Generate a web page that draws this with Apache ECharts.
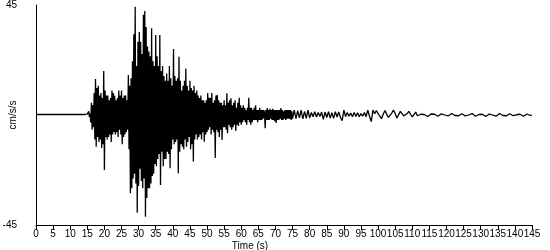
<!DOCTYPE html>
<html>
<head>
<meta charset="utf-8">
<script src="https://cdn.jsdelivr.net/npm/echarts@6/dist/echarts.min.js"></script>
<style>
html,body{margin:0;padding:0;background:#fff;}
#chart{width:550px;height:250px;}
</style>
</head>
<body>
<div id="chart"></div>
<script>
// Time axis ticks (s)
var xTicks = [0,5,10,15,20,25,30,35,40,45,50,55,60,65,70,75,80,85,90,95,100,105,110,115,120,125,130,135,140,145];
// Y axis labels (cm/s/s)
var yTicks = [-45, 45];

// Pre-event record: t = 0 .. 14.5 s, every 0.5 s
var preStart = 0, preStep = 0.5;
var preValues = [0.2,-0.2,0.2,-0.2,0.2,-0.2,0.2,-0.2,0.2,-0.2,
                 0.2,-0.2,0.2,-0.2,0.2,-0.2,0.2,-0.2,0.2,-0.2,
                 0.2,-0.2,0.2,-0.2,0.2,-0.2,0.2,-0.2,0.2,-0.2];

// Strong motion: t = 15.0 .. 75.0 s, every 0.2 s
var mainStart = 15, mainStep = 0.2;
var mainValues = [
  0.4,-0.3,1.5,-0.8,0.6,        // 15
  -3,5,-6,4,-5,                 // 16
  9,-10,14.7,-13,11,            // 17
  -9,12,-11,8,-10,              // 18
  9,-13.5,7,-12,18,             // 19
  -22.5,10,-9,8,-10,            // 20
  8,-9,6,-8,7,                  // 21
  -11,10,-8,9,-7,               // 22
  8,-8,6,-7,7,                  // 23
  -9,10,-6,8,-8,                // 24
  10,-12,7,-9,8,                // 25
  -8,8,-7,6,-6,                 // 26
  16.4,-14,12,-32,15,           // 27
  -30,22,-26,33,-24,            // 28
  44.3,-28,20,-40,30,           // 29
  -29,34,-22,30,-27,            // 30
  25,-30,41,-26,42.5,           // 31
  -41.6,36,-34,28,-30,          // 32
  26,-30,24,-28,35.5,           // 33
  -25,22,-24,20,-20,            // 34
  32.7,-21,24,-18,20,           // 35
  -16,32.7,-28.6,18,-15,        // 36
  20,-21,16,-18,14,             // 37
  -18,17,-15,14,-16,            // 38
  20,-21.8,15,-14,12,           // 39
  -10,27,-12,16,-11,            // 40
  14,-10,15,-23.8,23.8,         // 41
  -15,14,-12,10,-13,            // 42
  12,-14,14,-10,19,             // 43
  -13,12,-11,10,-9,             // 44
  14,-14,11,-12,10,             // 45
  -19,12,-10,9,-8,              // 46
  10,-10,8,-9,7,                // 47
  -8,8,-10,6,-7,                // 48
  6,-10.9,5,-8,6,               // 49
  -7,9,-6,7,-5,                 // 50
  7,-8,9,-6,5,                  // 51
  -7,6,-17.6,8,-6,              // 52
  8.2,-7,6,-9,5,                // 53
  -6,5,-10.2,4,-5,              // 54
  6,-5,4,-6,8.9,                // 55
  -7.5,5,-4,6,-5,               // 56
  6.8,-6,4,-5,5,                // 57
  -4,6,-6.5,3,-4,               // 58
  5,-4.5,7,-3,4,                // 59
  -4,3,-3,4,-2,                 // 60
  3,-3,2,-4,3,                  // 61
  -2,7,-3,3,-4,                 // 62
  3,-3,2,-2,3,                  // 63
  -2,4,-2,2,-3,                 // 64
  2,-2,3,-2,2,                  // 65
  -2,2,-1.5,2,1,                // 66
  -5.4,2,-2,2.8,-2,             // 67
  2,-2,2.5,-1.5,2,              // 68
  -2,2.5,-2,2,-2.5,             // 69
  2,-3.3,2,-2,2,                // 70
  -2,2,-1.5,2.8,-2,             // 71
  2,-2,1.5,-1.5,2,              // 72
  -2,2,-1.5,2,-1.5,             // 73
  2,-1.5,2,-2,1.5,              // 74
  -1.5                          // 75
];

// Coda: t = 75.5 .. 145 s, every 0.5 s
var codaStart = 75.5, codaStep = 0.5;
var codaValues = [
  2,-1.5,1.8,-1.2,2,-1.6,1.5,-1.4,2,-1.2,
  1,-0.7,1.3,-0.8,1,-0.6,1.2,-1.8,
  1.2,-1,1.4,-1.3,0.9,-1.4,1.4,-0.8,1.2,-1,
  -2.3,2,
  -0.7,1,-0.5,0.8,-0.7,1,-0.6,0.9,-0.7,0.6,-0.5,1,-0.7,
  2,-0.5,-2.7,2,
  0.5,1.8,2,-0.5,-1.5,0.3,1.8,1.2,-1,-1.6,
  0.8,2,0.6,-1.2,-0.8,1.5,1.8,-0.4,-1,0.6,
  1.5,0.3,-0.8,0.2,1.2,-0.3,-0.6,
  0.3,0.6,0.2,-0.4,-0.6,-0.2,0.4,0.7,0.3,-0.3,
  -0.5,0.1,0.5,0.6,0,-0.5,-0.4,0.2,0.6,0.4,
  -0.2,-0.6,-0.3,0.3,0.5,0.2,-0.4,-0.5,0,0.4,
  0.6,0.1,-0.5,-0.4,0.2,0.5,0.3,-0.3,-0.6,-0.1,
  0.4,0.5,0,-0.4,-0.5,0.1,0.6,0.3,-0.2,-0.5,
  -0.3,0.3,0.5,0.2,-0.3,-0.4,0.1,0.4,0.3,-0.2,
  -0.5,-0.1,0.4,0.3,-0.2,0
];

function seg(start, step, vals) {
  return vals.map(function (v, i) { return [+(start + i * step).toFixed(2), v]; });
}
var data = [].concat(seg(preStart, preStep, preValues), seg(mainStart, mainStep, mainValues), seg(codaStart, codaStep, codaValues));

var FONT = '"Liberation Sans", Arial, sans-serif';
var chart = echarts.init(document.getElementById('chart'), null, {renderer: 'canvas'});
chart.setOption({
  animation: false,
  backgroundColor: '#ffffff',
  grid: {left: 36, right: 18, top: 5, bottom: 25, containLabel: false, outerBoundsMode: 'none'},
  xAxis: {
    type: 'value',
    min: xTicks[0], max: xTicks[xTicks.length - 1], interval: 5,
    name: 'Time (s)', nameLocation: 'middle', nameGap: 16, nameMoveOverlap: false,
    nameTextStyle: {color: '#000', fontSize: 10, fontFamily: FONT, padding: [0, 68, 0, 0]},
    axisLine: {onZero: false, lineStyle: {color: '#000', width: 1}},
    axisTick: {show: true, length: 5, lineStyle: {color: '#000'}},
    axisLabel: {color: '#000', fontSize: 10, fontFamily: FONT, margin: 4, interval: 0,
      hideOverlap: false, showMinLabel: true, showMaxLabel: true},
    splitLine: {show: false}
  },
  yAxis: {
    type: 'value',
    min: yTicks[0], max: yTicks[1], interval: 45,
    name: 'cm/s/s', nameLocation: 'middle', nameGap: 18, nameMoveOverlap: false,
    nameTextStyle: {color: '#000', fontSize: 10, fontFamily: FONT},
    axisLine: {show: true, onZero: false, lineStyle: {color: '#000', width: 1}},
    axisTick: {show: false},
    axisLabel: {color: '#000', fontSize: 10, fontFamily: FONT, margin: 19,
      formatter: function (v) { return yTicks.indexOf(v) >= 0 ? String(v) : ''; }},
    splitLine: {show: false}
  },
  series: [{
    type: 'line',
    data: data,
    showSymbol: false,
    symbol: 'none',
    lineStyle: {color: '#000', width: 1.3},
    silent: true
  }]
});
</script>
</body>
</html>
